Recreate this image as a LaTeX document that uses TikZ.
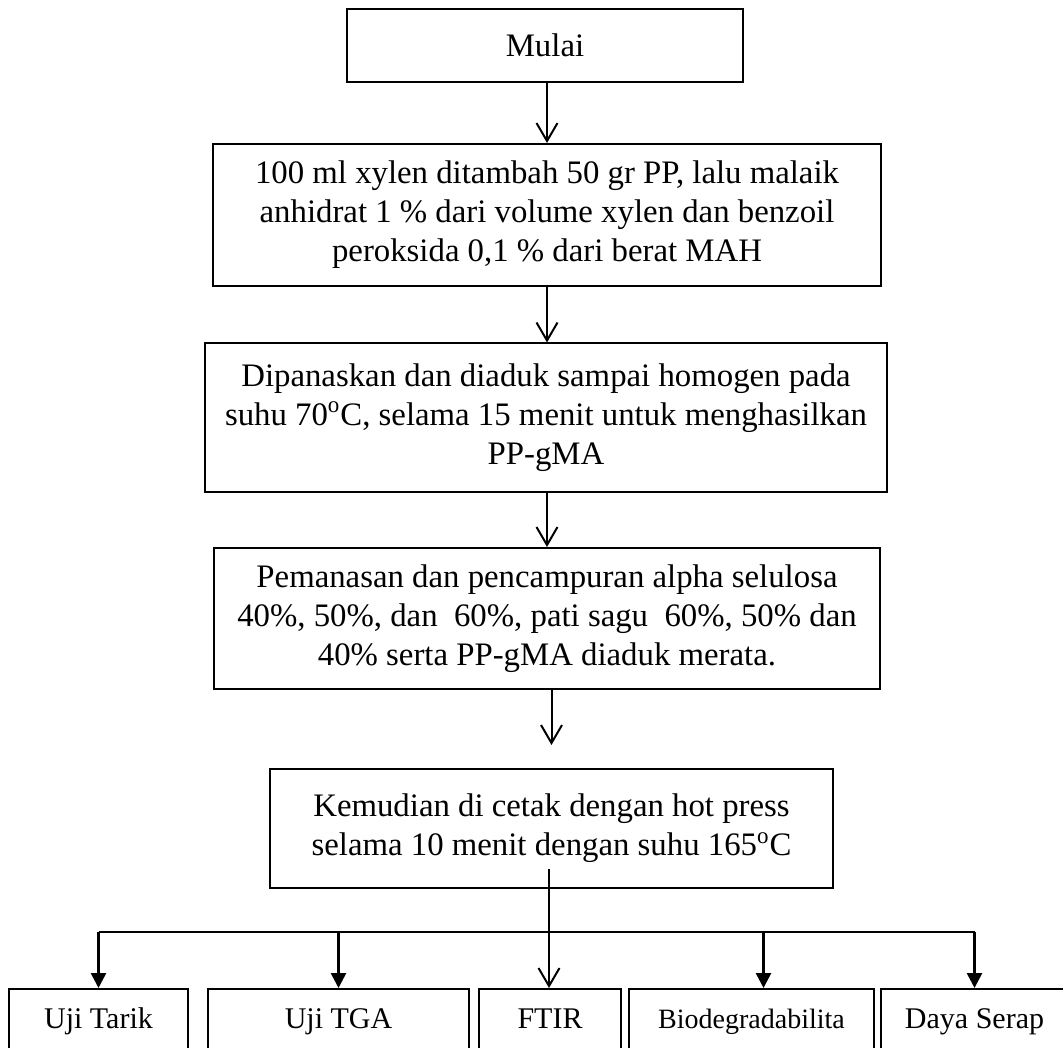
\documentclass[tikz,border=0pt]{standalone}
\usepackage{fontspec}
\setmainfont{Liberation Serif}
\usetikzlibrary{arrows.meta}

\begin{document}
\begin{tikzpicture}[x=0.5pt, y=-0.5pt,
		langkah/.style={draw, line width=1pt, inner sep=0pt, align=center, font=\fontsize{16.4}{19.5}\selectfont},
		uji/.style={draw, line width=1pt, anchor=north, inner xsep=0pt, inner ysep=6pt, text height=13.5pt, text depth=20pt, font=\fontsize{15}{17}\selectfont},
		alur/.style={line width=1pt, -{Straight Barb[length=9pt,width=10.5pt]}},
		cabang/.style={line width=1.3pt, -{Triangle[length=7.5pt,width=7.5pt]}}]
		%%%%% START %%%%%
		
		\useasboundingbox (0,0) rectangle (1063,1047);
		\clip (0,0) rectangle (1063,1047);
		
		\node[langkah, minimum width=198pt, minimum height=36.5pt] (mulai) at (545, 45.5) {Mulai};
		\node[langkah, minimum width=334pt, minimum height=71pt] (bahan) at (547, 215) {100 ml xylen ditambah 50 gr PP, lalu malaik\\anhidrat 1 \% dari volume xylen dan benzoil\\peroksida 0,1 \% dari berat MAH};
		\node[langkah, minimum width=341pt, minimum height=74pt] (panas) at (546, 417.5) {Dipanaskan dan diaduk sampai homogen pada\\suhu 70\textsuperscript{o}C, selama 15 menit untuk menghasilkan\\PP-gMA};
		\node[langkah, minimum width=333pt, minimum height=70.5pt] (campur) at (547, 618.5) {Pemanasan dan pencampuran alpha selulosa\\40\%, 50\%, dan~ 60\%, pati sagu~ 60\%, 50\% dan\\40\% serta PP-gMA diaduk merata.};
		\node[langkah, minimum width=281.5pt, minimum height=59.5pt] (cetak) at (551.5, 828.5) {Kemudian di cetak dengan hot press\\selama 10 menit dengan suhu 165\textsuperscript{o}C};
		
		% hasil pengujian
		\node[uji, minimum width=89.5pt] (tarik) at (98.5, 988) {Uji Tarik};
		\node[uji, minimum width=130.5pt] (tga) at (338.5, 988) {Uji TGA};
		\node[uji, minimum width=71pt] (ftir) at (550, 988) {FTIR};
		\node[uji, minimum width=122.5pt, font=\fontsize{14}{17}\selectfont] (biodeg) at (751.5, 988) {Biodegradabilita};
		\node[uji, minimum width=93.5pt] (serap) at (974.5, 988) {Daya Serap};
		
		\draw[alur] (mulai.south -| bahan.north) -- (bahan.north);
		\draw[alur] (bahan.south) -- (bahan.south |- panas.north);
		\draw[alur] (panas.south -| campur.north) -- (campur.north);
		\draw[alur, shorten >=11.5pt] (campur.south -| cetak.north) -- (cetak.north);
		
		\coordinate (bagi) at (549, 932);
		\draw[alur] ([yshift=10pt]cetak.south -| bagi) -- (ftir.north -| bagi);
		\draw[line width=1.3pt] (tarik.north |- bagi) -- (serap.north |- bagi);
		\draw[cabang] (tarik.north |- bagi) -- (tarik.north);
		\draw[cabang] (tga.north |- bagi) -- (tga.north);
		\draw[cabang] ([xshift=6pt]biodeg.north |- bagi) -- ([xshift=6pt]biodeg.north);
		\draw[cabang] (serap.north |- bagi) -- (serap.north);
		
		%%%%% END %%%%%
	\end{tikzpicture}
\end{document}
